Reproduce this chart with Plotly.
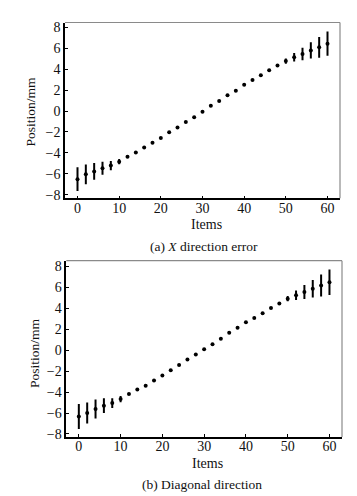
import plotly.graph_objects as go

items = list(range(0, 61, 2))

x_dir_pos = [-6.52, -6.06, -5.78, -5.47, -5.22, -4.85, -4.38, -3.96, -3.50, -3.03,
             -2.58, -2.03, -1.57, -1.06, -0.59, -0.06, 0.50, 0.95, 1.51, 1.95,
             2.51, 2.98, 3.43, 3.91, 4.35, 4.78, 5.15, 5.45, 5.80, 6.10, 6.45]
x_dir_err = [1.13, 0.94, 0.80, 0.62, 0.45, 0.25, 0.10, 0.05, 0, 0,
             0, 0, 0, 0, 0, 0, 0, 0, 0, 0,
             0, 0, 0, 0, 0.10, 0.25, 0.40, 0.60, 0.78, 0.99, 1.17]

diag_pos = [-6.33, -6.00, -5.62, -5.30, -5.05, -4.67, -4.19, -3.76, -3.39, -2.90,
            -2.43, -1.91, -1.41, -0.90, -0.41, 0.09, 0.56, 1.10, 1.66, 2.13,
            2.67, 3.08, 3.53, 4.02, 4.45, 4.92, 5.24, 5.55, 5.86, 6.18, 6.49]
diag_err = [1.20, 1.00, 0.90, 0.70, 0.47, 0.30, 0.10, 0.05, 0, 0,
            0, 0, 0, 0, 0, 0, 0, 0, 0, 0,
            0, 0, 0, 0, 0.10, 0.25, 0.45, 0.66, 0.83, 1.05, 1.22]

x_ticks = [0, 10, 20, 30, 40, 50, 60]
y_ticks = [-8, -6, -4, -2, 0, 2, 4, 6, 8]
y_tick_text = ["\u22128", "\u22126", "\u22124", "\u22122", "0", "2", "4", "6", "8"]

captions = ["(a) <i>X</i> direction error", "(b) Diagonal direction"]

W, H = 357, 496
FONT = "Liberation Serif"

fig = go.Figure()

panels = [
    dict(pos=x_dir_pos, err=x_dir_err, xd=[57 / W, 332 / W], yd=[1 - 191 / H, 1 - 12.7 / H],
         yr=[-8.35, 8.47], xa="x", ya="y"),
    dict(pos=diag_pos, err=diag_err, xd=[58.3 / W, 334 / W], yd=[1 - 433 / H, 1 - 254.3 / H],
         yr=[-8.28, 8.54], xa="x2", ya="y2"),
]

for i, p in enumerate(panels):
    fig.add_trace(go.Scatter(
        x=items, y=p["pos"], mode="markers", xaxis=p["xa"], yaxis=p["ya"],
        marker=dict(color="black", size=4),
        error_y=dict(type="data", array=p["err"], visible=True, color="black",
                     thickness=2, width=0),
        showlegend=False,
    ))
    sfx = "" if i == 0 else "2"
    axis_common = dict(showgrid=False, zeroline=False, showline=True, linecolor="black",
                       linewidth=1.5, ticks="inside", ticklen=3, tickcolor="black",
                       tickfont=dict(family=FONT, size=14, color="#111"))
    fig.update_layout(**{
        "xaxis" + sfx: dict(domain=p["xd"], range=[-3, 63], tickvals=x_ticks,
                            anchor="y" + sfx, ticklabelstandoff=-4, **axis_common),
        "yaxis" + sfx: dict(domain=p["yd"], range=p["yr"], tickvals=y_ticks,
                            ticktext=y_tick_text, anchor="x" + sfx, ticklabelstandoff=0,
                            **axis_common),
    })
    # gray top and right frame lines
    fig.add_shape(type="line", xref=p["xa"] + " domain", yref=p["ya"] + " domain",
                  x0=0, x1=1, y0=1, y1=1, line=dict(color="#8a8a8a", width=1.2))
    fig.add_shape(type="line", xref=p["xa"] + " domain", yref=p["ya"] + " domain",
                  x0=1, x1=1, y0=0, y1=1, line=dict(color="#8a8a8a", width=1.2))

annots = [
    dict(text="Items", x=198 / W, y=1 - 218 / H, size=14),
    dict(text=captions[0], x=196 / W, y=1 - 240 / H, size=13.5),
    dict(text="Items", x=199 / W, y=1 - 460 / H, size=14),
    dict(text=captions[1], x=194 / W, y=1 - 481 / H, size=13.5),
]
for a in annots:
    fig.add_annotation(text=a["text"], x=a["x"], y=a["y"], xref="paper", yref="paper",
                       showarrow=False, xanchor="center", yanchor="middle",
                       font=dict(family=FONT, size=a["size"], color="#111"))
for (xx, yy) in [(23, 103), (26, 348)]:
    fig.add_annotation(text="Position/mm", x=xx / W, y=1 - yy / H, xref="paper", yref="paper",
                       showarrow=False, textangle=-90, xanchor="center", yanchor="middle",
                       font=dict(family=FONT, size=13.5, color="#111"))

fig.update_layout(width=W, height=H, margin=dict(l=0, r=0, t=0, b=0),
                  paper_bgcolor="white", plot_bgcolor="white")

fig.write_html("out.html")
